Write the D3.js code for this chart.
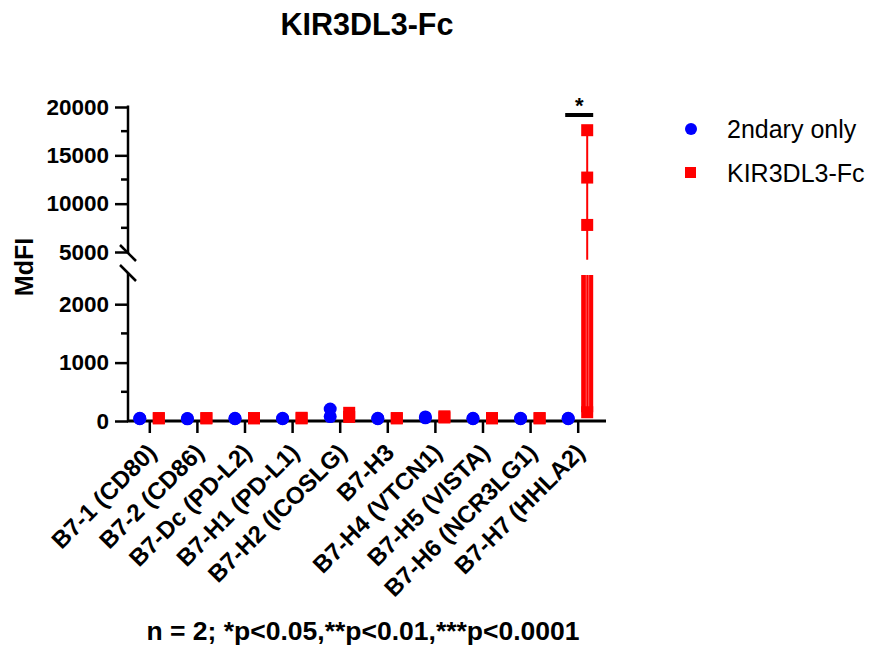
<!DOCTYPE html>
<html>
<head>
<meta charset="utf-8">
<script src="https://cdn.jsdelivr.net/npm/d3@7"></script>
<style>
  body { margin: 0; background: #fff; }
  svg { font-family: "Liberation Sans", Arial, sans-serif; }
</style>
</head>
<body>
<div id="chart"></div>
<script>
// data
const categories = ["B7-1 (CD80)", "B7-2 (CD86)", "B7-Dc (PD-L2)", "B7-H1 (PD-L1)", "B7-H2 (ICOSLG)",
  "B7-H3", "B7-H4 (VTCN1)", "B7-H5 (VISTA)", "B7-H6 (NCR3LG1)", "B7-H7 (HHLA2)"];
const secondaryOnly = [[45, 40], [42, 38], [45, 40], [45, 40], [205, 75], [45, 40], [70, 55], [45, 40], [45, 40], [45, 40]];
const kirFc = [[50, 45], [50, 45], [50, 45], [55, 45], [140, 70], [50, 45], [80, 60], [50, 45], [50, 45], [17600, 12700, 7800, 150]];
const hhlaErr = {low: 150, high: 17600};
const lowTicks = [0, 1000, 2000];
const lowMinor = [500, 1500];
const highTicks = [5000, 10000, 15000, 20000];
const highMinor = [7500, 12500, 17500];
const legendItems = ["2ndary only", "KIR3DL3-Fc"];

const W = 872, H = 646;
const svg = d3.select("#chart").append("svg").attr("width", W).attr("height", H);

const x = d3.scaleBand().domain(categories).range([126, 602]);
const xc = d => x(d) + x.bandwidth() / 2;
const yLow = d3.scaleLinear().domain([0, 2500]).range([421, 275]);
const yHigh = d3.scaleLinear().domain([5000, 20000]).range([252, 107]);
const breakBottom = 4200; // where the upper segment is cut
const y = v => v <= 2500 ? yLow(v) : yHigh(Math.max(v, breakBottom));

const axisX = 128;
const blue = "#0000ff", red = "#ff0000";

// title
svg.append("text").attr("x", 367).attr("y", 35).attr("text-anchor", "middle")
  .style("font-size", "30.5px").style("font-weight", "bold").text("KIR3DL3-Fc");

// y label
svg.append("text").attr("transform", "translate(33,267) rotate(-90)").attr("text-anchor", "middle")
  .style("font-size", "25px").style("font-weight", "bold").text("MdFI");

// y axis - upper segment
const gHigh = svg.append("g").attr("transform", `translate(${axisX},0)`)
  .call(d3.axisLeft(yHigh).tickValues(highTicks).tickFormat(d3.format("d")).tickSize(13).tickPadding(6).tickSizeOuter(0));
gHigh.select(".domain").remove();
gHigh.append("g").selectAll("line").data(highMinor).join("line")
  .attr("x1", -7).attr("x2", 0).attr("y1", d => yHigh(d)).attr("y2", d => yHigh(d));
gHigh.append("line").attr("x1", 0).attr("x2", 0).attr("y1", yHigh(20000) - 1.5).attr("y2", yHigh(5000) + 1);

// y axis - lower segment
const gLow = svg.append("g").attr("transform", `translate(${axisX},0)`)
  .call(d3.axisLeft(yLow).tickValues(lowTicks).tickFormat(d3.format("d")).tickSize(13).tickPadding(6).tickSizeOuter(0));
gLow.select(".domain").remove();
gLow.append("g").selectAll("line").data(lowMinor).join("line")
  .attr("x1", -7).attr("x2", 0).attr("y1", d => yLow(d)).attr("y2", d => yLow(d));
gLow.append("line").attr("x1", 0).attr("x2", 0).attr("y1", yLow(2500) - 2).attr("y2", yLow(0));

// break marks
[yHigh(5000) + 1, yLow(2500) - 2].forEach(yy => {
  svg.append("line").attr("x1", axisX - 8).attr("x2", axisX + 8)
    .attr("y1", yy - 8).attr("y2", yy + 8)
    .attr("stroke", "#000").attr("stroke-width", 2.5);
});

[gHigh, gLow].forEach(g => {
  g.attr("font-family", null);
  g.selectAll("line").attr("stroke", "#000").attr("stroke-width", 2.5);
  g.selectAll("text").style("font-size", "22.5px").style("font-weight", "bold").attr("fill", "#000");
});

// x axis
const gx = svg.append("g").attr("transform", `translate(0,${yLow(0)})`)
  .call(d3.axisBottom(x).tickSize(12).tickSizeOuter(0).tickFormat(""));
gx.select(".domain").attr("d", `M${axisX - 1},0H606`).attr("stroke", "#000").attr("stroke-width", 3);
gx.selectAll(".tick line").attr("stroke", "#000").attr("stroke-width", 2.5);

svg.append("g").selectAll("text").data(categories).join("text")
  .attr("transform", d => `translate(${xc(d) + 8},${yLow(0) + 33}) rotate(-45)`)
  .attr("text-anchor", "end")
  .style("font-size", "24px").style("font-weight", "bold")
  .text(d => d);

// HHLA2 error bar
const hh = categories[9];
const hx = xc(hh) + 9;
svg.append("line").attr("x1", hx).attr("x2", hx)
  .attr("y1", yHigh(hhlaErr.high)).attr("y2", y(hhlaErr.low > 2500 ? hhlaErr.low : breakBottom))
  .attr("stroke", red).attr("stroke-width", 2);
svg.append("rect").attr("x", hx - 6).attr("width", 12)
  .attr("y", yLow(2500)).attr("height", yLow(hhlaErr.low) - yLow(2500))
  .attr("fill", red);
[-1, 1.5].forEach(o => {
  svg.append("line").attr("x1", hx + o).attr("x2", hx + o)
    .attr("y1", yLow(2500)).attr("y2", yLow(hhlaErr.low))
    .attr("stroke", "#ff7070").attr("stroke-width", 0.8);
});

// points
categories.forEach((c, i) => {
  secondaryOnly[i].forEach(v => {
    svg.append("circle").attr("cx", xc(c) - 10).attr("cy", y(v)).attr("r", 6.5).attr("fill", blue);
  });
  kirFc[i].forEach(v => {
    svg.append("rect").attr("x", xc(c) + 9 - 6).attr("y", y(v) - 6)
      .attr("width", 12).attr("height", 12).attr("fill", red);
  });
});

// significance
svg.append("line").attr("x1", xc(hh) - 13).attr("x2", xc(hh) + 15)
  .attr("y1", 115).attr("y2", 115).attr("stroke", "#000").attr("stroke-width", 4);
svg.append("text").attr("x", xc(hh) + 1).attr("y", 113).attr("text-anchor", "middle")
  .style("font-size", "22px").style("font-weight", "bold").text("*");

// legend
const lg = svg.append("g");
lg.append("circle").attr("cx", 691).attr("cy", 129).attr("r", 6).attr("fill", blue);
lg.append("rect").attr("x", 685).attr("y", 167).attr("width", 11).attr("height", 11).attr("fill", red);
legendItems.forEach((t, i) => {
  lg.append("text").attr("x", 727).attr("y", 138 + i * 44).style("font-size", "25px").text(t);
});

// footnote
svg.append("text").attr("x", 363).attr("y", 640).attr("text-anchor", "middle")
  .style("font-size", "26.5px").style("font-weight", "bold")
  .text("n = 2; *p<0.05,**p<0.01,***p<0.0001");
</script>
</body>
</html>
